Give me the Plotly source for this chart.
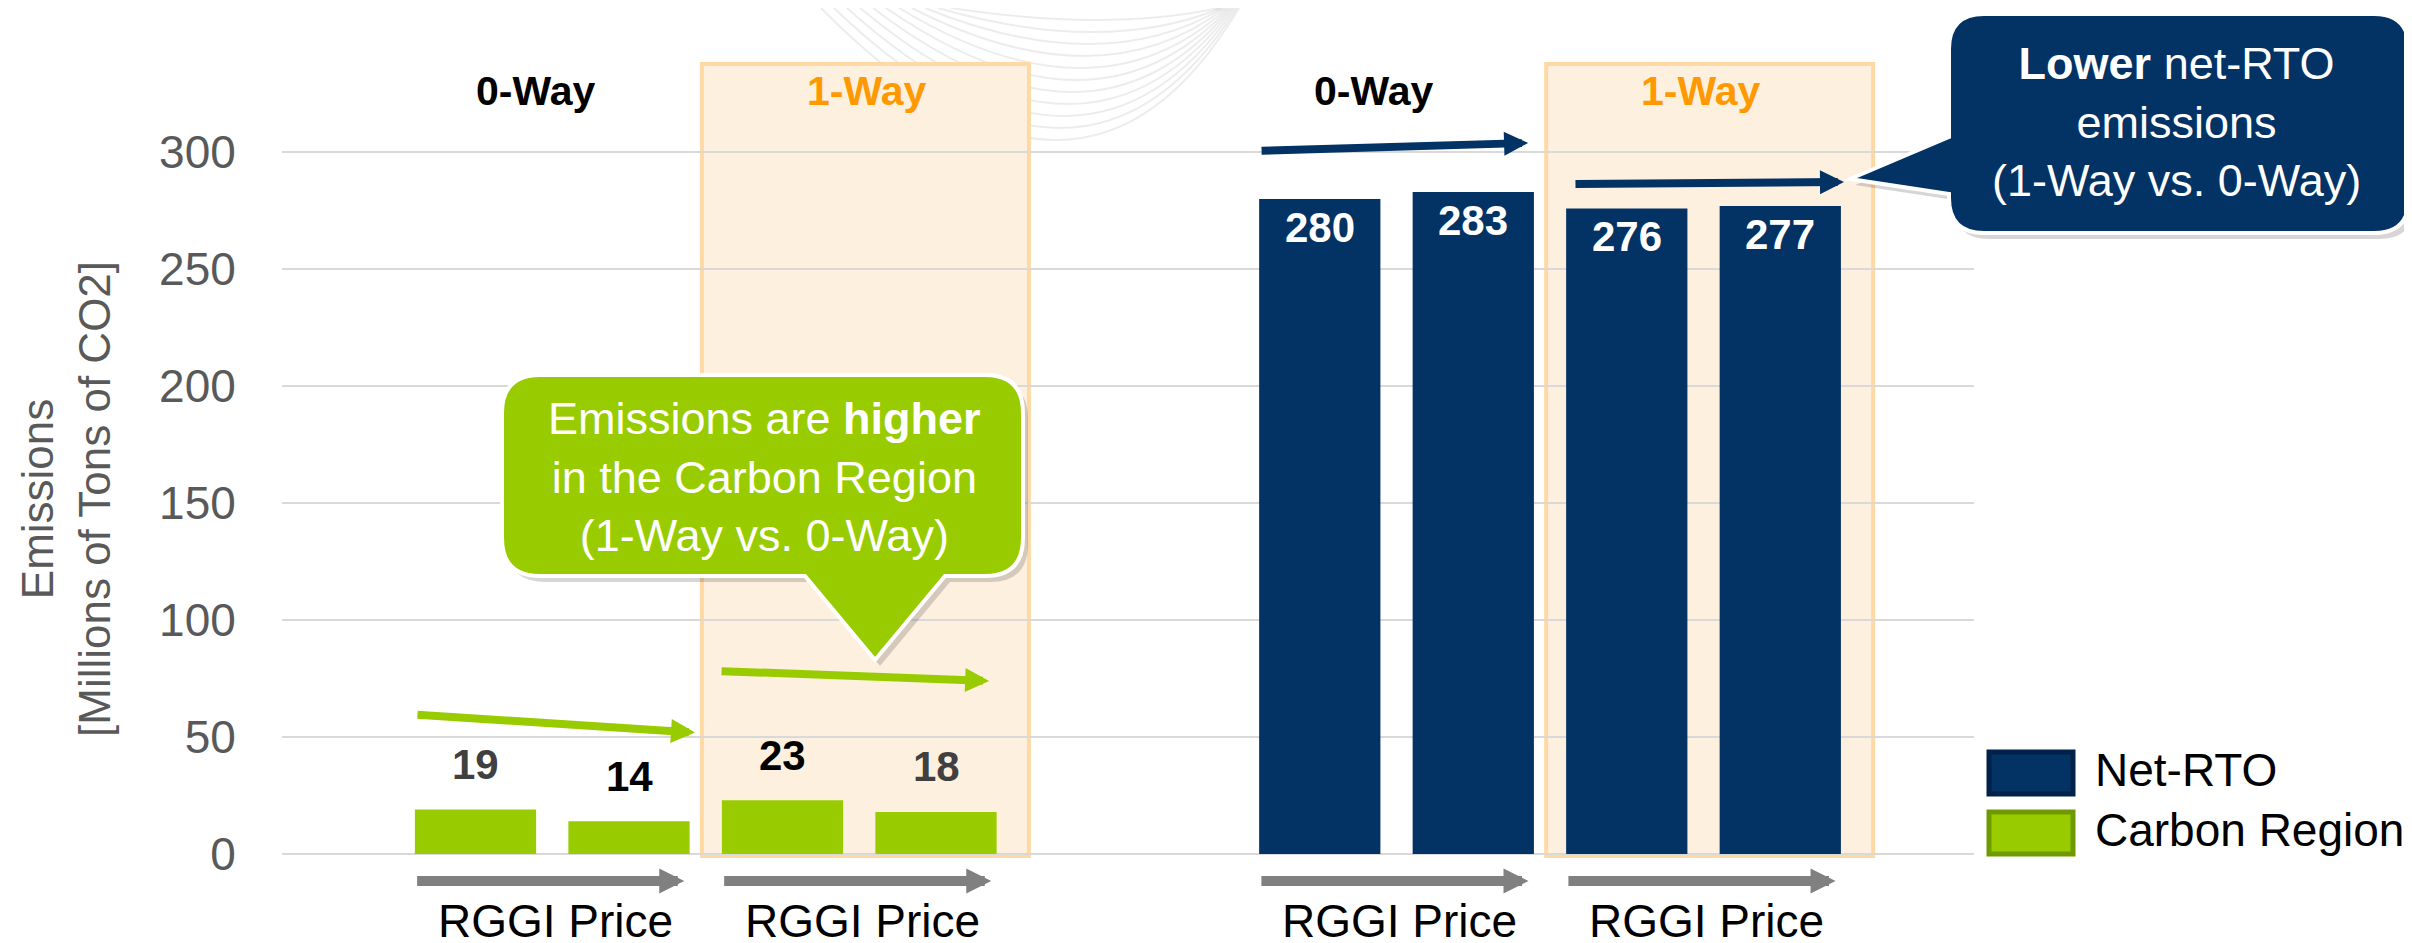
import plotly.graph_objects as go

# ---------------- data ----------------
groups = ["Carbon Region", "Net-RTO"]
scenarios = ["0-Way", "0-Way", "1-Way", "1-Way"]
price_label = "RGGI Price"
carbon_region = [19, 14, 23, 18]
net_rto = [280, 283, 276, 277]
y_ticks = [0, 50, 100, 150, 200, 250, 300]
callout_green = ["Emissions are <b>higher</b>", "in the Carbon Region", "(1-Way vs. 0-Way)"]
callout_navy = ["<b>Lower</b> net-RTO", "emissions", "(1-Way vs. 0-Way)"]

# ---------------- style ----------------
NAVY = "#033264"
NAVY_DARK = "#01204A"
GREEN = "#99CC00"
GREEN_DARK = "#6E9A00"
GRAY_TXT = "#595959"
ORANGE = "#FF9900"
ARROW_GRAY = "#808080"
BOX_FILL = "#FEF0DF"
BOX_LINE = "#FFD9A3"
FONT = "Liberation Sans, Arial, sans-serif"

W, H = 2412, 943
ML, MR, MT, MB = 274, 446, 0, 0
PW = W - ML - MR

# two panels of four bars
carbon_x = [float(i) for i in range(len(carbon_region))]
net_x = [5.5 + i for i in range(len(net_rto))]
BW = 0.79
XR = [-1.2606, 9.762]
YR = [-41.47, 361.69]


def fx(px):
    return (px - ML) / PW


def fy(py):
    return 1 - (py - MT) / (H - MT - MB)


fig = go.Figure()
fig.add_trace(go.Bar(x=net_x, y=net_rto, width=BW, marker=dict(color=NAVY, line=dict(width=0)),
                     name="Net-RTO", showlegend=False, hoverinfo="y"))
fig.add_trace(go.Bar(x=carbon_x, y=carbon_region, width=BW, marker=dict(color=GREEN, line=dict(width=0)),
                     name="Carbon Region", showlegend=False, hoverinfo="y"))

shapes = []
ann = []

# 1-Way highlight boxes
for xs in (carbon_x, net_x):
    a, b = xs[2], xs[3]
    shapes.append(dict(type="rect", xref="x", yref="y", x0=a - BW / 2 - 0.13, x1=b + BW / 2 + 0.21,
                       y0=-0.9, y1=337.7, fillcolor=BOX_FILL, line=dict(color=BOX_LINE, width=4),
                       layer="below"))

# faint decorative swirl at top
for i in range(11):
    d = 132 - 12 * i
    x0 = 813 + 13 * i
    x2 = 1231 - 2 * i
    xb = 1048 + 4 * i
    cx = (4 * xb - x0 - x2) / 2
    shapes.append(dict(type="path", xref="paper", yref="paper",
                       path=f"M{fx(x0)},{fy(0)} Q{fx(cx)},{fy(2 * d)} {fx(x2)},{fy(0)}",
                       line=dict(color="rgba(0,0,0,0.075)", width=2), layer="below"))


def callout(L, T, R, B, r, pointer, side):
    p = [f"M{fx(L + r)},{fy(T)}", f"L{fx(R - r)},{fy(T)}", f"Q{fx(R)},{fy(T)} {fx(R)},{fy(T + r)}",
         f"L{fx(R)},{fy(B - r)}", f"Q{fx(R)},{fy(B)} {fx(R - r)},{fy(B)}"]
    if side == "bottom":
        p += [f"L{fx(px)},{fy(py)}" for px, py in pointer]
    p += [f"L{fx(L + r)},{fy(B)}", f"Q{fx(L)},{fy(B)} {fx(L)},{fy(B - r)}"]
    if side == "left":
        p += [f"L{fx(px)},{fy(py)}" for px, py in pointer]
    p += [f"L{fx(L)},{fy(T + r)}", f"Q{fx(L)},{fy(T)} {fx(L + r)},{fy(T)}", "Z"]
    return " ".join(p)


def shifted(pts, dx, dy):
    return [(a + dx, b + dy) for a, b in pts]


g_ptr = [(937, 568), (867, 652), (797, 568)]
n_ptr = [(1941, 186), (1842, 171), (1941, 129)]
for dx, dy, fill, lw in [(5, 6, "rgba(0,0,0,0.16)", 0), (0, 0, GREEN, 4)]:
    shapes.append(dict(type="path", xref="paper", yref="paper",
                       path=callout(494 + dx, 367 + dy, 1015 + dx, 568 + dy, 38, shifted(g_ptr, dx, dy), "bottom"),
                       fillcolor=fill, line=dict(color="white", width=lw), layer="above"))
for dx, dy, fill, lw in [(5, 6, "rgba(0,0,0,0.16)", 0), (0, 0, NAVY, 4)]:
    shapes.append(dict(type="path", xref="paper", yref="paper",
                       path=callout(1941 + dx, 6 + dy, 2401 + dx, 225 + dy, 35, shifted(n_ptr, dx, dy), "left"),
                       fillcolor=fill, line=dict(color="white", width=lw), layer="above"))

ann.append(dict(xref="paper", yref="paper", x=fx(756), y=fy(469), xanchor="center", yanchor="middle",
                text="<br>".join(callout_green), showarrow=False,
                font=dict(family=FONT, size=45, color="white"), align="center"))
ann.append(dict(xref="paper", yref="paper", x=fx(2168), y=fy(114), xanchor="center", yanchor="middle",
                text="<br>".join(callout_navy), showarrow=False,
                font=dict(family=FONT, size=45, color="white"), align="center"))

# value labels
c_colors = ["#404040", "#000000", "#000000", "#404040"]
for x, v, c in zip(carbon_x, carbon_region, c_colors):
    ann.append(dict(x=x, y=v, xref="x", yref="y", text=f"<b>{v}</b>", showarrow=False, yshift=45,
                    font=dict(family=FONT, size=42, color=c)))
for x, v in zip(net_x, net_rto):
    ann.append(dict(x=x, y=v, xref="x", yref="y", text=f"<b>{v}</b>", showarrow=False, yshift=-28,
                    font=dict(family=FONT, size=42, color="white")))

# scenario headers
way_x = [0.394, 2.544, 5.85, 7.977]
for x, s in zip(way_x, ["0-Way", "1-Way", "0-Way", "1-Way"]):
    ann.append(dict(x=x, y=326, xref="x", yref="y", text=f"<b>{s}</b>", showarrow=False,
                    font=dict(family=FONT, size=41, color="black" if s == "0-Way" else ORANGE)))

# RGGI price arrows + labels
for start in (carbon_x[0], carbon_x[2], net_x[0], net_x[2]):
    ann.append(dict(x=start + 1.36, y=-11.5, ax=start - 0.39, ay=-11.5, xref="x", yref="y", axref="x",
                    ayref="y", text="", showarrow=True, arrowhead=2, arrowsize=0.5, arrowwidth=10,
                    arrowcolor=ARROW_GRAY))
    ann.append(dict(x=start + 0.52, y=-28.8, xref="x", yref="y", text=price_label, showarrow=False,
                    font=dict(family=FONT, size=46, color="black")))

# trend arrows
trend = [((-0.388, 59.6), (1.430, 51.9), GREEN, 8),
         ((1.593, 78.2), (3.346, 74.0), GREEN, 8),
         ((5.111, 300.6), (6.857, 304.0), NAVY, 8),
         ((7.156, 286.4), (8.915, 287.3), NAVY, 8)]
for (tx, ty), (hx, hy), col, w in trend:
    ann.append(dict(x=hx, y=hy, ax=tx, ay=ty, xref="x", yref="y", axref="x", ayref="y", text="",
                    showarrow=True, arrowhead=2, arrowsize=0.6, arrowwidth=w, arrowcolor=col))

# y-axis title
ann.append(dict(xref="paper", yref="paper", x=fx(58), y=fy(491), xanchor="center", yanchor="middle",
                text="Emissions<br>[Millions of Tons of CO2]",
                textangle=-90, showarrow=False, font=dict(family=FONT, size=44, color=GRAY_TXT), align="center"))

# manual legend
for (name, fill, edge), ytop in zip([("Net-RTO", NAVY, NAVY_DARK), ("Carbon Region", GREEN, GREEN_DARK)], (742, 802)):
    shapes.append(dict(type="rect", xref="paper", yref="paper", x0=fx(1981), x1=fx(2065), y0=fy(ytop + 2),
                       y1=fy(ytop + 44), fillcolor=fill, line=dict(color=edge, width=5)))
    ann.append(dict(xref="paper", yref="paper", x=fx(2085), y=fy(ytop + 20), xanchor="left", yanchor="middle",
                    text=name, showarrow=False, font=dict(family=FONT, size=46, color="black")))

fig.update_layout(
    width=W, height=H, margin=dict(l=ML, r=MR, t=MT, b=MB, pad=0),
    paper_bgcolor="white", plot_bgcolor="rgba(0,0,0,0)",
    barmode="overlay", showlegend=False,
    shapes=shapes, annotations=ann,
    xaxis=dict(range=XR, showgrid=False, zeroline=False, showticklabels=False, showline=False, fixedrange=True),
    yaxis=dict(range=YR, tickvals=y_ticks, ticktext=[str(v) for v in y_ticks], showgrid=True,
               gridcolor="#D9D9D9", gridwidth=2, zeroline=False, showline=False,
               ticks="outside", ticklen=36, tickcolor="rgba(0,0,0,0)",
               tickfont=dict(family=FONT, size=46, color=GRAY_TXT), fixedrange=True),
    font=dict(family=FONT),
)

fig.write_html("out.html")
